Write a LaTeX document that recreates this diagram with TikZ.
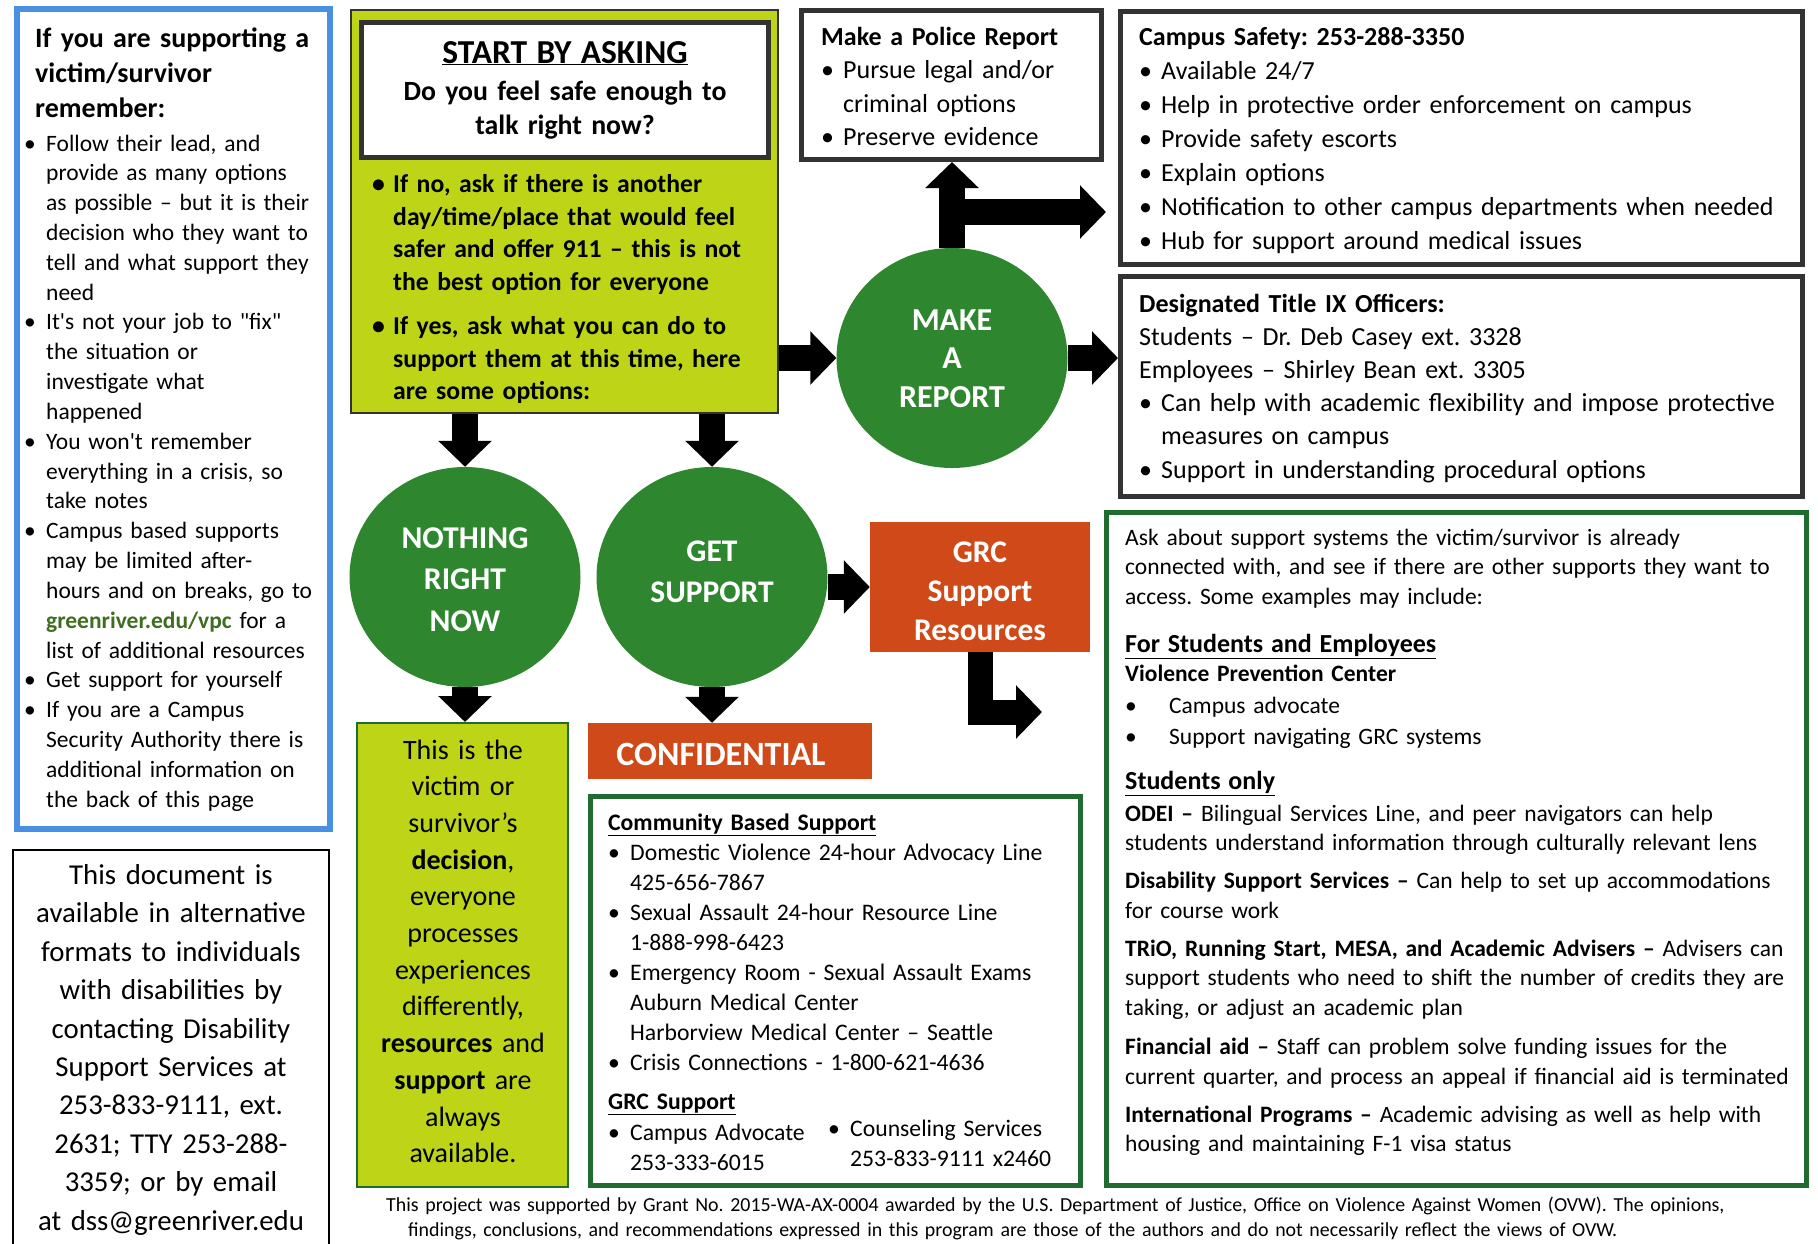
\documentclass[tikz,border=0pt]{standalone}
\usepackage{fontspec}
\setmainfont{Carlito}
\frenchspacing
\usetikzlibrary{positioning,arrows.meta,shapes.geometric}

\definecolor{circlegreen}{RGB}{46,135,46}
\definecolor{lime}{RGB}{189,213,22}
\definecolor{rust}{RGB}{208,74,25}
\definecolor{skyblue}{RGB}{74,144,226}
\definecolor{darkgreen}{RGB}{31,107,48}
\definecolor{boxgrey}{RGB}{51,51,51}
\definecolor{linkgreen}{RGB}{62,110,32}

\newcommand{\fsz}[2]{\fontsize{#1}{#2}\selectfont}
\newcommand{\bitem}[2][22pt]{\hangindent=#1\hangafter=1\noindent\makebox[#1][l]{\textbullet}#2\par}

\tikzset{
  txt/.style={inner sep=0pt, anchor=base west, align=left, text width=#1},
  txt/.default=700pt,
  ctxt/.style={inner sep=0pt, anchor=base, align=center, text width=#1},
  frame/.style={draw=boxgrey, line width=5pt, inner sep=0pt},
  oval/.style={ellipse, fill=circlegreen, inner sep=0pt, minimum width=231pt, minimum height=220pt},
  capstext/.style 2 args={inner sep=0pt, text=white, align=center, font=\fsz{#1}{#2}\bfseries},
  blockarrow/.style={line width=26pt, -{Triangle[width=52pt,length=26pt]}},
}

\begin{document}
\begin{tikzpicture}[x=1pt,y=-1pt]
    \useasboundingbox (0,0) rectangle (1818,1243);
    \fill[white] (0,0) rectangle (1818,1243);

    % left column
    \node[draw=skyblue, line width=6pt, inner sep=0pt, minimum width=313pt, minimum height=820pt] (remember) at (173.5,419) {};
    \node[txt, font=\fsz{28}{35}\bfseries] (remtitle) at (35,47) {If you are supporting a\\victim/survivor\\remember:};
    \node[txt, font=\fsz{23.5}{29.83}] (remlist) at (24,151) {%
        \bitem{Follow their lead, and\newline provide as many options\newline as possible – but it is their\newline decision who they want to\newline tell and what support they\newline need}%
        \bitem{It\textquotesingle s not your job to \textquotedbl fix\textquotedbl\newline the situation or\newline investigate what\newline happened}%
        \bitem{You won\textquotesingle t remember\newline everything in a crisis, so\newline take notes}%
        \bitem{Campus based supports\newline may be limited after-\newline hours and on breaks, go to\newline \textbf{\color{linkgreen}greenriver.edu/vpc} for a\newline list of additional resources}%
        \bitem{Get support for yourself}%
        \bitem{If you are a Campus\newline Security Authority there is\newline additional information on\newline the back of this page}};

    \node[draw=black, line width=2pt, inner sep=0pt, minimum width=316pt, minimum height=420pt] (formats) at (171,1060) {};
    \node[ctxt=320pt, font=\fsz{28.8}{38.4}] (formatstext) at (171,884.5) {This document is\\available in alternative\\formats to individuals\\with disabilities by\\contacting Disability\\Support Services at\\253-833-9111, ext.\\2631; TTY 253-288-\\3359; or by email\\at dss@greenriver.edu};

    % start by asking
    \node[draw=boxgrey, line width=2pt, fill=lime, inner sep=0pt, minimum width=427pt, minimum height=403pt] (start) at (564.5,211.5) {};
    \node[frame, fill=white, minimum width=407pt, minimum height=135pt] (ask) at (565,90) {};
    \node[ctxt=400pt, font=\fsz{27.8}{34}\bfseries] (asktext) at (565,63) {\underline{\fsz{33.5}{34}START BY ASKING}\\[3pt]Do you feel safe enough to\\talk right now?};
    \node[txt, font=\fsz{25.7}{32.7}\bfseries] (options) at (372,192.5) {%
        \bitem[21pt]{If no, ask if there is another\newline day/time/place that would feel\newline safer and offer 911 – this is not\newline the best option for everyone}%
        \vspace{11pt}%
        \bitem[21pt]{If yes, ask what you can do to\newline support them at this time, here\newline are some options:}};

    % report side
    \node[frame, minimum width=300pt, minimum height=149pt] (police) at (951.5,85) {};
    \node[txt, font=\fsz{26}{33.5}] (policetext) at (821,45) {\textbf{Make a Police Report}\par
        \bitem{Pursue legal and/or\newline criminal options}\bitem{Preserve evidence}};
    \node[frame, minimum width=682pt, minimum height=253pt] (campus) at (1461.5,138) {};
    \node[txt, font=\fsz{26}{34}] (campustext) at (1139,45.5) {\textbf{Campus Safety: 253-288-3350}\par
        \bitem{Available 24/7}\bitem{Help in protective order enforcement on campus}\bitem{Provide safety escorts}%
        \bitem{Explain options}\bitem{Notification to other campus departments when needed}\bitem{Hub for support around medical issues}};
    \node[frame, minimum width=682pt, minimum height=220pt] (titleix) at (1461.5,386.5) {};
    \node[txt, font=\fsz{26}{33.2}] (titleixtext) at (1139,312) {\textbf{Designated Title IX Officers:}\par
        Students – Dr. Deb Casey ext. 3328\par Employees – Shirley Bean ext. 3305\par
        \bitem{Can help with academic flexibility and impose protective\newline measures on campus}\bitem{Support in understanding procedural options}};

    % circles
    \node[oval] (report) at (952,358) {};
    \node[capstext={32}{38.5}] (reportlabel) at (952,358.5) {MAKE\\A\\REPORT};
    \node[oval] (nothing) at (465,577) {};
    \node[capstext={31.7}{41.5}] (nothinglabel) at (465,579.5) {NOTHING\\RIGHT\\NOW};
    \node[oval] (getsup) at (712,577) {};
    \node[capstext={31.5}{40.5}] (getsuplabel) at (712,572) {GET\\SUPPORT};

    % orange boxes
    \node[fill=rust, inner sep=0pt, minimum width=220pt, minimum height=130pt] (grc) at (980,587) {};
    \node[capstext={31.5}{39}] (grclabel) at (980,591) {GRC\\Support\\Resources};
    \node[fill=rust, inner sep=0pt, minimum width=284pt, minimum height=56pt] (confid) at (730,751) {};
    \node[capstext={34}{36}] (confidlabel) at (721,754) {CONFIDENTIAL};

    % decision box
    \node[draw=darkgreen, line width=2pt, fill=lime, inner sep=0pt, minimum width=211pt, minimum height=464pt] (decision) at (462.5,955) {};
    \node[ctxt=220pt, font=\fsz{28}{36.7}] (decisiontext) at (463,759) {This is the\\victim or\\survivor’s\\\textbf{decision},\\everyone\\processes\\experiences\\differently,\\\textbf{resources} and\\\textbf{support} are\\always\\available.};

    % community support
    \node[frame, draw=darkgreen, minimum width=490pt, minimum height=389pt] (community) at (835.5,991) {};
    \node[txt, font=\fsz{23.7}{30}] (communitytext) at (608,830) {\underline{\textbf{Community Based Support}}\par
        \bitem{Domestic Violence 24-hour Advocacy Line\newline 425-656-7867}%
        \bitem{Sexual Assault 24-hour Resource Line\newline 1-888-998-6423}%
        \bitem{Emergency Room - Sexual Assault Exams\newline Auburn Medical Center\newline Harborview Medical Center – Seattle}%
        \bitem{Crisis Connections - 1-800-621-4636}%
        \vspace{9pt}\underline{\textbf{GRC Support}}};
    \node[txt=220pt, font=\fsz{23.7}{30}] (advocate) at (608,1140) {\bitem{Campus Advocate\newline 253-333-6015}};
    \node[txt=260pt, font=\fsz{23.7}{30}] (counsel) at (828,1136) {\bitem{Counseling Services\newline 253-833-9111 x2460}};

    % examples
    \node[frame, draw=darkgreen, minimum width=700pt, minimum height=673pt] (examples) at (1456.5,849) {};
    \node[txt, font=\fsz{23.5}{29.5}] (examplestext) at (1125,545.3) {Ask about support systems the victim/survivor is already\\connected with, and see if there are other supports they want to\\access. Some examples may include:\\[18.5pt]
        {\fsz{26}{29.5}\bfseries\underline{For Students and Employees}}\\
        \textbf{Violence Prevention Center}\par
        \vspace{1.8pt}\bitem[44pt]{Campus advocate}\vspace{1.8pt}\bitem[44pt]{Support navigating GRC systems}%
        \vspace{15.7pt}%
        {\fsz{26}{29.5}\bfseries\underline{Students only}}\\[2pt]
        \textbf{ODEI –} Bilingual Services Line, and peer navigators can help\\students understand information through culturally relevant lens\\[8.5pt]
        \textbf{Disability Support Services –} Can help to set up accommodations\\for course work\\[8.5pt]
        \textbf{TRiO, Running Start, MESA, and Academic Advisers –} Advisers can\\support students who need to shift the number of credits they are\\taking, or adjust an academic plan\\[10pt]
        \textbf{Financial aid –} Staff can problem solve funding issues for the\\current quarter, and process an appeal if financial aid is terminated\\[8.5pt]
        \textbf{International Programs –} Academic advising as well as help with\\housing and maintaining F-1 visa status};

    % footer
    \node[txt=1500pt, font=\fsz{19.9}{25}] (footer) at (386,1211) {This project was supported by Grant No. 2015-WA-AX-0004 awarded by the U.S. Department of Justice, Office on Violence Against Women (OVW). The opinions,\\\hspace*{22pt}findings, conclusions, and recommendations expressed in this program are those of the authors and do not necessarily reflect the views of OVW.};

    % arrows
    \coordinate (fork) at (952,212);
    \coordinate (grcbend) at (1042,712);
    \draw[blockarrow] (start.south -| nothing.north) -- (nothing.north);
    \draw[blockarrow] (start.south -| getsup.north) -- (getsup.north);
    \draw[blockarrow] (start.east |- report.west) -- (report.west);
    \draw[blockarrow] (report.east) -- (titleix.west |- report.east);
    \draw[blockarrow] (report.north) -- (police.south -| report.north);
    \draw[blockarrow] (fork) -- ([xshift=-12pt]campus.west |- fork);
    \draw[blockarrow] (nothing.south) -- (decision.north -| nothing.south);
    \draw[blockarrow] (getsup.south) -- (confid.north -| getsup.south);
    \draw[blockarrow] (getsup.east |- grc.west) -- (grc.west);
    \draw[blockarrow, line width=25pt] (grc.south) |- (grcbend);
\end{tikzpicture}
\end{document}
